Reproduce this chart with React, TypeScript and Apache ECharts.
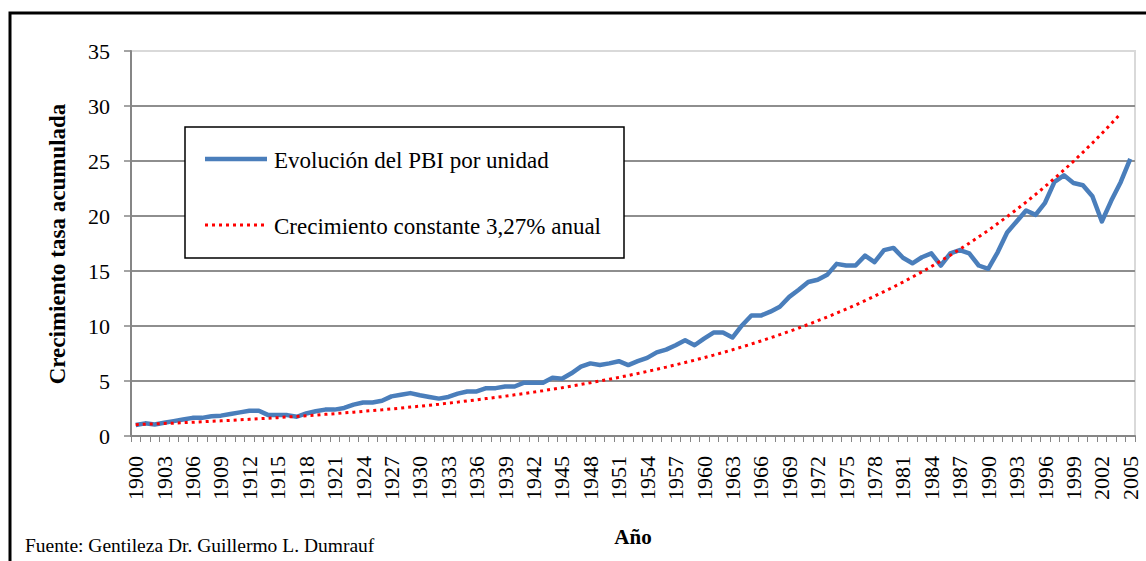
import React, { useEffect, useRef } from "react";
import * as echarts from "echarts";

const years = [
  1900, 1901, 1902, 1903, 1904, 1905, 1906, 1907, 1908, 1909,
  1910, 1911, 1912, 1913, 1914, 1915, 1916, 1917, 1918, 1919,
  1920, 1921, 1922, 1923, 1924, 1925, 1926, 1927, 1928, 1929,
  1930, 1931, 1932, 1933, 1934, 1935, 1936, 1937, 1938, 1939,
  1940, 1941, 1942, 1943, 1944, 1945, 1946, 1947, 1948, 1949,
  1950, 1951, 1952, 1953, 1954, 1955, 1956, 1957, 1958, 1959,
  1960, 1961, 1962, 1963, 1964, 1965, 1966, 1967, 1968, 1969,
  1970, 1971, 1972, 1973, 1974, 1975, 1976, 1977, 1978, 1979,
  1980, 1981, 1982, 1983, 1984, 1985, 1986, 1987, 1988, 1989,
  1990, 1991, 1992, 1993, 1994, 1995, 1996, 1997, 1998, 1999,
  2000, 2001, 2002, 2003, 2004, 2005,
];

const pbi = [
  1.0, 1.15, 1.05, 1.2, 1.35, 1.5, 1.65, 1.65, 1.8, 1.85,
  2.0, 2.15, 2.3, 2.3, 1.9, 1.9, 1.9, 1.75, 2.05, 2.25,
  2.4, 2.4, 2.55, 2.85, 3.05, 3.05, 3.2, 3.6, 3.75, 3.9,
  3.7, 3.55, 3.4, 3.55, 3.85, 4.05, 4.05, 4.35, 4.35, 4.5,
  4.5, 4.85, 4.85, 4.85, 5.3, 5.2, 5.7, 6.3, 6.6, 6.45,
  6.6, 6.8, 6.45, 6.8, 7.1, 7.6, 7.85, 8.25, 8.7, 8.25,
  8.85, 9.4, 9.4, 8.95, 10.05, 10.95, 10.95, 11.3, 11.75, 12.65,
  13.3, 14.0, 14.2, 14.65, 15.65, 15.5, 15.5, 16.4, 15.8, 16.9,
  17.1, 16.2, 15.7, 16.25, 16.6, 15.5, 16.6, 16.9, 16.6, 15.5,
  15.2, 16.7, 18.5, 19.5, 20.5, 20.1, 21.2, 23.1, 23.7, 23.0,
  22.8, 21.8, 19.5, 21.4, 23.1, 25.2,
];

const constante = [
  1.03, 1.07, 1.1, 1.14, 1.17, 1.21, 1.25, 1.29, 1.34, 1.38,
  1.42, 1.47, 1.52, 1.57, 1.62, 1.67, 1.73, 1.78, 1.84, 1.9,
  1.97, 2.03, 2.1, 2.16, 2.24, 2.31, 2.38, 2.46, 2.54, 2.63,
  2.71, 2.8, 2.89, 2.99, 3.08, 3.19, 3.29, 3.4, 3.51, 3.62,
  3.74, 3.86, 3.99, 4.12, 4.26, 4.39, 4.54, 4.69, 4.84, 5.0,
  5.16, 5.33, 5.5, 5.68, 5.87, 6.06, 6.26, 6.47, 6.68, 6.89,
  7.12, 7.35, 7.59, 7.84, 8.1, 8.36, 8.64, 8.92, 9.21, 9.51,
  9.82, 10.14, 10.48, 10.82, 11.17, 11.54, 11.91, 12.3, 12.71, 13.12,
  13.55, 13.99, 14.45, 14.92, 15.41, 15.92, 16.44, 16.97, 17.53, 18.1,
  18.69, 19.31, 19.94, 20.59, 21.26, 21.96, 22.68, 23.42, 24.18, 24.97,
  25.79, 26.63, 27.5, 28.4, 29.33, null,
];

const seriesNames = ["Evolución del PBI por unidad", "Crecimiento constante 3,27% anual"];
const yTitle = "Crecimiento tasa acumulada";
const xTitle = "Año";
const sourceNote = "Fuente: Gentileza Dr. Guillermo L. Dumrauf";

export default function App() {
  const ref = useRef<HTMLDivElement>(null);

  useEffect(() => {
    const chart = echarts.init(ref.current!, null, { renderer: "svg" });
    const font = "Liberation Serif";
    const axisGray = "#868686";
    const txt = (
      text: string,
      x: number,
      y: number,
      size: number,
      extra: Record<string, unknown> = {},
      styleExtra: Record<string, unknown> = {}
    ) => ({
      type: "text",
      x,
      y,
      z: 11,
      ...extra,
      style: {
        text,
        fill: "#000",
        fontFamily: font,
        fontSize: size,
        verticalAlign: "middle",
        ...styleExtra,
      },
    });
    chart.setOption({
      animation: false,
      backgroundColor: "#ffffff",
      textStyle: { fontFamily: font },
      grid: {
        left: 131,
        right: 11,
        top: 51,
        bottom: 125,
        show: true,
        borderColor: "#d9d9d9",
        borderWidth: 2,
        backgroundColor: "transparent",
      },
      xAxis: {
        type: "category",
        data: years.map(String),
        boundaryGap: true,
        axisLine: { show: true, lineStyle: { color: axisGray, width: 2 } },
        axisTick: { show: true, interval: 0, length: 6, lineStyle: { color: axisGray, width: 1 } },
        axisLabel: {
          interval: 2,
          rotate: 90,
          margin: 20,
          color: "#000",
          fontFamily: font,
          fontSize: 22,
        },
        splitLine: { show: false },
      },
      yAxis: {
        type: "value",
        min: 0,
        max: 35,
        interval: 5,
        axisLine: { show: true, lineStyle: { color: axisGray, width: 2 } },
        axisTick: { show: true, length: 7, lineStyle: { color: axisGray, width: 1.5 } },
        axisLabel: { margin: 21, color: "#000", fontFamily: font, fontSize: 22 },
        splitLine: {
          show: true,
          lineStyle: {
            color: ["#8e8e8e", "#8e8e8e", "#8e8e8e", "#8e8e8e", "#8e8e8e", "#8e8e8e", "#8e8e8e", "#d9d9d9"],
            width: 2,
          },
        },
      },
      series: [
        {
          name: seriesNames[0],
          type: "line",
          data: pbi,
          showSymbol: false,
          symbol: "none",
          lineStyle: { color: "#4a7ebb", width: 4.5, join: "round" },
          z: 3,
        },
        {
          name: seriesNames[1],
          type: "line",
          data: constante,
          showSymbol: false,
          symbol: "none",
          lineStyle: { color: "#ff0000", width: 3, type: [3, 4] },
          z: 4,
        },
      ],
      graphic: [
        {
          type: "rect",
          shape: { x: 10, y: 13, width: 1300, height: 700 },
          style: { fill: "none", stroke: "#000", lineWidth: 3 },
          silent: true,
        },
        {
          type: "rect",
          shape: { x: 185, y: 127, width: 439, height: 131 },
          style: { fill: "#fff", stroke: "#000", lineWidth: 1.5 },
          z: 10,
        },
        {
          type: "line",
          shape: { x1: 205, y1: 159, x2: 267, y2: 159 },
          style: { stroke: "#4a7ebb", lineWidth: 4.5 },
          z: 11,
        },
        {
          type: "line",
          shape: { x1: 205, y1: 225, x2: 264, y2: 225 },
          style: { stroke: "#ff0000", lineWidth: 3, lineDash: [3, 4] },
          z: 11,
        },
        txt(seriesNames[0], 274, 160, 23),
        txt(seriesNames[1], 274, 226, 23),
        txt(yTitle, 57, 244, 23, { rotation: Math.PI / 2 }, { align: "center", fontWeight: "bold" }),
        txt(xTitle, 633, 537, 21, {}, { align: "center", fontWeight: "bold" }),
        txt(sourceNote, 25, 545, 19.5),
      ],
    });
    return () => chart.dispose();
  }, []);

  return (
    <div
      ref={ref}
      style={{ position: "fixed", left: 0, top: 0, width: 1146, height: 561 }}
    />
  );
}
